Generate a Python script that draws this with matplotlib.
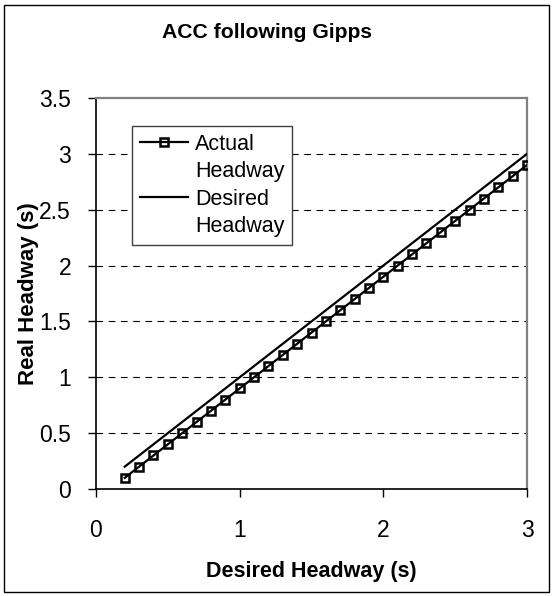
import numpy as np
import matplotlib
matplotlib.use("Agg")
import matplotlib.pyplot as plt
from matplotlib.patches import Rectangle
from matplotlib.lines import Line2D

plt.rcParams["font.family"] = ["Liberation Sans", "DejaVu Sans"]

# data
desired = [0.2, 0.3, 0.4, 0.5, 0.6, 0.7, 0.8, 0.9, 1.0, 1.1, 1.2, 1.3, 1.4, 1.5,
           1.6, 1.7, 1.8, 1.9, 2.0, 2.1, 2.2, 2.3, 2.4, 2.5, 2.6, 2.7, 2.8, 2.9, 3.0]
actual = [0.1, 0.2, 0.3, 0.4, 0.5, 0.6, 0.7, 0.8, 0.9, 1.0, 1.1, 1.2, 1.3, 1.4,
          1.5, 1.6, 1.7, 1.8, 1.9, 2.0, 2.1, 2.2, 2.3, 2.4, 2.5, 2.6, 2.7, 2.8, 2.9]
yticks = [0, 0.5, 1, 1.5, 2, 2.5, 3, 3.5]
ytick_labels = ["0", "0.5", "1", "1.5", "2", "2.5", "3", "3.5"]
xticks = [0, 1, 2, 3]

W, H = 554, 596
fig = plt.figure(figsize=(W / 100, H / 100), dpi=100)
fig.patches.append(Rectangle((4/W, 4/H), 545/W, 587/H, transform=fig.transFigure,
                             fill=False, edgecolor="black", linewidth=1))
ax = fig.add_axes([96/W, 1 - 489/H, 431/W, 391/H])

ax.plot(desired, actual, color="black", lw=1.6, marker="s", markersize=5.8,
        markerfacecolor="none", markeredgecolor="black", markeredgewidth=1.8, zorder=3)
ax.plot(desired, desired, color="black", lw=1.6, zorder=3)

ax.set_xlim(0, 3)
ax.set_ylim(0, 3.5)
ax.set_xticks(xticks)
ax.set_yticks(yticks)
ax.set_yticklabels(ytick_labels)
for y in yticks[1:-1]:
    ax.axhline(y, color="black", lw=0.8, dashes=(6, 5), zorder=1)

for s in ["top", "right"]:
    ax.spines[s].set_color("#808080")
    ax.spines[s].set_linewidth(1.6)
ax.spines["left"].set_linewidth(1.2)
ax.spines["bottom"].set_linewidth(1.2)
ax.tick_params(direction="out", width=1, labelsize=16.5)
ax.tick_params(axis="x", length=5.5, pad=16)
ax.tick_params(axis="y", length=6, pad=12)

ax.set_xlabel("Desired Headway (s)", fontsize=15.5, fontweight="bold")
ax.xaxis.label.set_va("center")
ax.xaxis.set_label_coords(0.5, (489 - 572) / 391)
ax.set_ylabel("Real Headway (s)", fontsize=16, fontweight="bold")
ax.yaxis.label.set_va("center")
ax.yaxis.set_label_coords((29 - 96) / 431, 0.5)
fig.text(267 / W, 1 - 32 / H, "ACC following Gipps", ha="center", va="center",
         fontsize=15.2, fontweight="bold")

# legend: second line of each label on its own row so the key sits by the first line
handles = [Line2D([], [], color="black", lw=1.6, marker="s", markersize=5.8,
                  markerfacecolor="none", markeredgewidth=1.8),
           Line2D([], [], color="none"),
           Line2D([], [], color="black", lw=1.6),
           Line2D([], [], color="none")]
labels = ["Actual", "Headway", "Desired", "Headway"]
leg = ax.legend(handles, labels, loc="upper left", bbox_to_anchor=(36/431, 1 - 28/391),
                fontsize=15.5, frameon=True, fancybox=False, edgecolor="#404040",
                handlelength=2.23, handletextpad=0.33, borderpad=0.37,
                labelspacing=0.3, borderaxespad=0, framealpha=1)
leg.get_frame().set_linewidth(1)

fig.savefig("out.png", dpi=100, facecolor="white")
